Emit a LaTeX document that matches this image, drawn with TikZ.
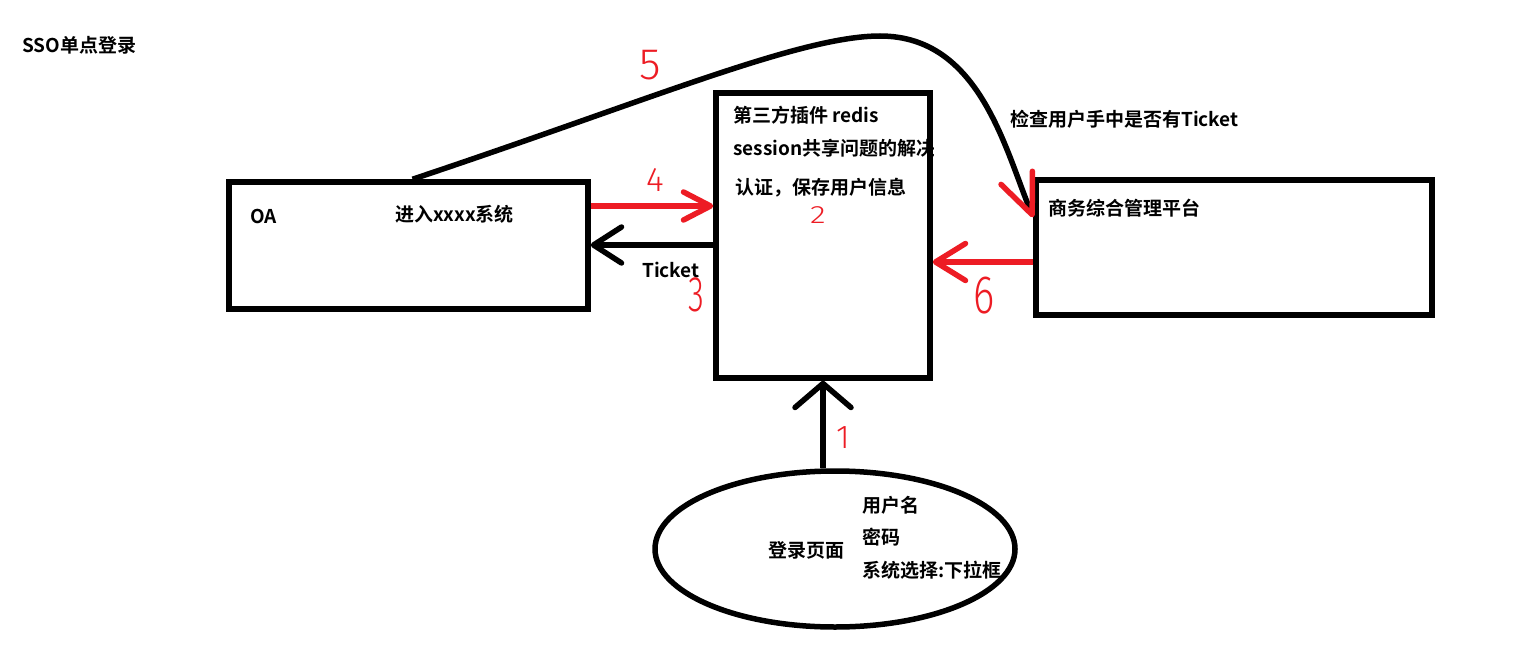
\documentclass[tikz,border=0pt]{standalone}
\usepackage{fontspec}
\setmainfont{Noto Sans CJK SC}[BoldFont={Noto Sans CJK SC Bold}]
\newfontfamily\handfont{Fira Sans Light}
\usetikzlibrary{arrows.meta,shapes.geometric,calc}
\definecolor{paintred}{RGB}{237,28,36}
\begin{document}
\begin{tikzpicture}[x=1pt,y=-1pt,
  box/.style={draw, line width=5.5pt, rectangle, inner sep=0pt},
  lbl/.style={anchor=west, inner sep=0pt, font=\fontsize{19}{23}\selectfont\bfseries},
  num/.style={text=paintred, inner sep=0pt},
  blk/.style={line width=5.5pt, draw=black},
  redl/.style={line width=5.5pt, draw=paintred},
]
\fill[white] (0,0) rectangle (1522,658);
\useasboundingbox (0,0) rectangle (1522,658);

% texts
\node[lbl] (title) at (22,45) {SSO单点登录};
\node[lbl] (check) at (1010,119) {检查用户手中是否有Ticket};
\node[lbl] (oatxt) at (250,216) {OA};
\node[lbl] (enter) at (395,214) {进入xxxx系统};
\node[lbl] (biz) at (1048,208) {商务综合管理平台};
\node[lbl] (ticket) at (642,270) {Ticket};
\node[lbl] (lp) at (768,550) {登录页面};
\node[lbl] (user) at (862,505) {用户名};
\node[lbl] (pwd) at (862,537) {密码};
\node[lbl] (sel) at (862,570) {系统选择:下拉框};
\begin{scope}
  \clip (713,90) rectangle (933,381);
  \node[lbl] (m1) at (733,115) {第三方插件 redis};
  \node[lbl] (m2) at (733,148) {session共享问题的解决};
  \node[lbl] (m3) at (735,188) {认证，保存用户信息};
\end{scope}

% boxes
\node[box, minimum width=359pt, minimum height=127pt] (oa) at (408.5,245.5) {};
\node[box, minimum width=214pt, minimum height=285pt] (mid) at (823,235.5) {};
\node[box, minimum width=396pt, minimum height=135pt] (right) at (1234,247.5) {};
\node[draw, ellipse, line width=5.5pt, minimum width=360pt, minimum height=156pt, inner sep=0pt] (login) at (835,549) {};

% connector 1
\draw[blk, -{Straight Barb[length=24pt,width=56pt,round]}] (login.north -| mid.south) -- (mid.south);
% connector 4
\coordinate (a4) at ($(oa.east)+(0,-39.5)$);
\draw[redl, -{Straight Barb[length=27pt,width=28pt,round]}] (a4) -- (a4 -| mid.west);
% connector 3
\coordinate (a3) at ($(mid.west)+(0,9.5)$);
\draw[blk, -{Straight Barb[length=28pt,width=36pt,round]}] (a3) -- (a3 -| oa.east);
% connector 6
\coordinate (a6) at ($(right.west)+(0,14.5)$);
\draw[redl, -{Straight Barb[length=30pt,width=37pt,round]}] (a6) -- (a6 -| mid.east);
% connector 5
\coordinate (c5s) at ($(oa.north)+(4,0)$);
\coordinate (c5e) at ($(right.north west)+(0,40)$);
\draw[blk, -{Straight Barb[length=40pt,width=34pt,round,color=paintred]}]
  (c5s) .. controls (650,100) and (800,36) .. (880,36)
        .. controls (980,36) and (1005,150) .. (c5e);

% red step numbers
\node[num, font=\handfont\fontsize{44}{44}\selectfont] (n5) at (650,65) {5};
\node[num, font=\handfont\fontsize{34}{34}\selectfont] (n4) at (655,180) {4};
\node[num, font=\handfont\fontsize{25}{25}\selectfont, xscale=1.3] (n2) at (818,215) {2};
\node[num, font=\handfont\fontsize{50}{50}\selectfont, xscale=0.65] (n3) at (696,295) {3};
\node[num, font=\handfont\fontsize{54}{54}\selectfont, xscale=0.75] (n6) at (984,296) {6};
\node[num, font=\handfont\fontsize{33}{33}\selectfont] (n1) at (843,438) {1};
\end{tikzpicture}
\end{document}
